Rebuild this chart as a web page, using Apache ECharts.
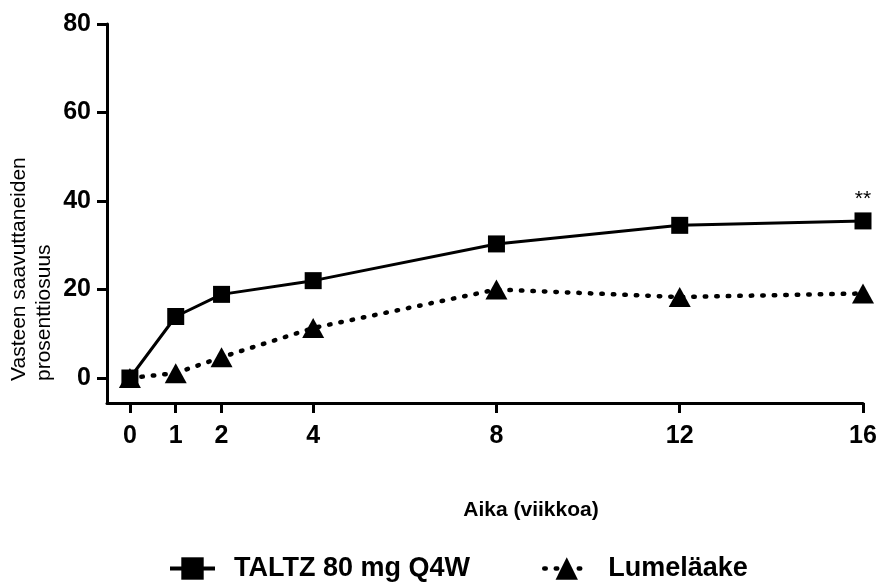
<!DOCTYPE html>
<html>
<head>
<meta charset="utf-8">
<script src="https://cdn.jsdelivr.net/npm/echarts@6/dist/echarts.min.js"></script>
<style>html,body{margin:0;padding:0;background:#fff;}#c{width:880px;height:582px;}</style>
</head>
<body>
<div id="c"></div>
<script>
const weeks = [0, 1, 2, 4, 8, 12, 16];
const taltz = [0, 13.9, 18.9, 22.0, 30.3, 34.5, 35.5];
const placebo = [0, 1.1, 4.7, 11.3, 20.0, 18.3, 19.1];
const xTicks = [0, 1, 2, 4, 8, 12, 16];
const yTicks = [0, 20, 40, 60, 80];
const seriesNames = ['TALTZ 80 mg Q4W', 'Lumeläake'];
const yTitle = 'Vasteen saavuttaneiden\nprosenttiosuus';
const xTitle = 'Aika (viikkoa)';
const sigMark = '**';

const FONT = '"Liberation Sans", Arial, sans-serif';
const DOTS = [1.5, 10];
const chart = echarts.init(document.getElementById('c'));

const taltzData = weeks.map((w, i) => {
  const item = { value: [w, taltz[i]] };
  if (i === weeks.length - 1) {
    item.label = { show: true, formatter: sigMark, position: 'top', distance: 3,
      color: '#000', fontSize: 21, fontFamily: FONT };
  }
  return item;
});
const placeboData = weeks.map((w, i) => [w, placebo[i]]);

chart.setOption({
  animation: false,
  backgroundColor: '#fff',
  grid: { left: 107, right: 17, top: 24, bottom: 179, containLabel: false },
  xAxis: {
    type: 'value', min: -0.5, max: 16,
    axisLine: { show: true, onZero: false, lineStyle: { color: '#000', width: 3 } },
    axisTick: { show: true, customValues: xTicks, length: 10, lineStyle: { color: '#000', width: 3 } },
    axisLabel: { customValues: xTicks, color: '#000', fontSize: 25, fontWeight: 'bold', fontFamily: FONT, margin: 21 },
    splitLine: { show: false }
  },
  yAxis: {
    type: 'value', min: -5.65, max: 80,
    axisLine: { show: true, onZero: false, lineStyle: { color: '#000', width: 3 } },
    axisTick: { show: true, customValues: yTicks, length: 10, lineStyle: { color: '#000', width: 3 } },
    axisLabel: { customValues: yTicks, color: '#000', fontSize: 25, fontWeight: 'bold', fontFamily: FONT, margin: 16 },
    splitLine: { show: false }
  },
  legend: {
    data: [
      { name: seriesNames[0], lineStyle: { width: 4 } },
      { name: seriesNames[1], lineStyle: { width: 4.5, type: DOTS, cap: 'round' } }
    ],
    left: 163, top: 550,
    itemWidth: 45, itemHeight: 28, itemGap: 72,
    textStyle: { color: '#000', fontSize: 27, fontWeight: 'bold', fontFamily: FONT, padding: [0, 0, 0, 14] }
  },
  graphic: [
    { type: 'text', x: 7, y: 381, rotation: Math.PI / 2,
      style: { text: yTitle, fill: '#000', font: '21px ' + FONT, lineHeight: 25,
        textAlign: 'left', textVerticalAlign: 'top' } },
    { type: 'text', x: 531, y: 510,
      style: { text: xTitle, fill: '#000', font: 'bold 21px ' + FONT,
        textAlign: 'center', textVerticalAlign: 'middle' } }
  ],
  series: [
    {
      name: seriesNames[1], type: 'line', data: placeboData,
      symbol: 'triangle', symbolSize: [22, 20],
      itemStyle: { color: '#000' },
      lineStyle: { color: '#000', width: 4.5, type: DOTS, cap: 'round' },
      z: 2
    },
    {
      name: seriesNames[0], type: 'line', data: taltzData,
      symbol: 'rect', symbolSize: 17,
      itemStyle: { color: '#000' },
      lineStyle: { color: '#000', width: 3 },
      z: 3
    }
  ]
});
</script>
</body>
</html>
